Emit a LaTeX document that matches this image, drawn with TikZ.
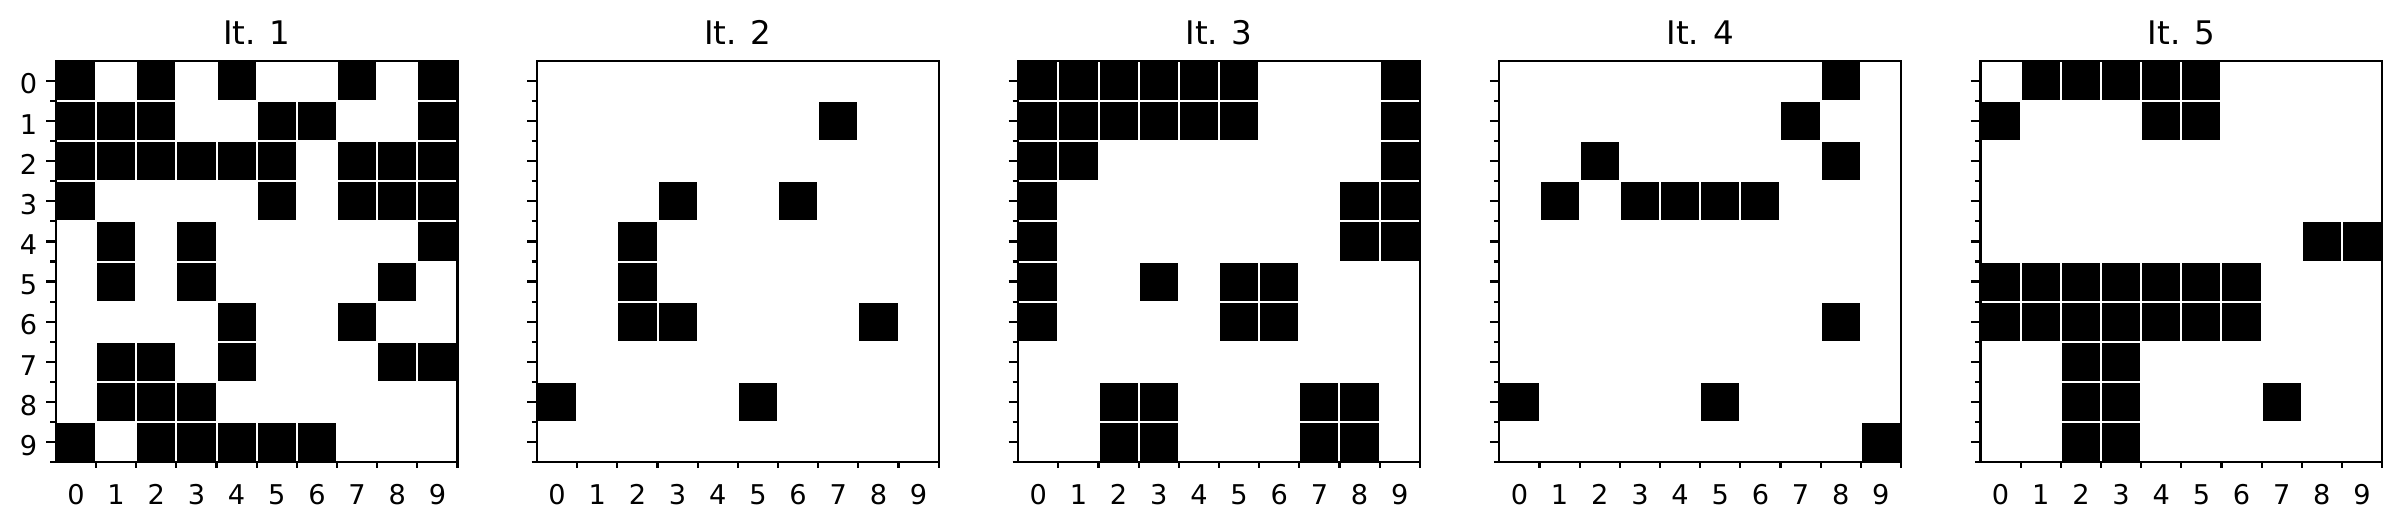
\documentclass[tikz,border=0pt]{standalone}
\usepackage{fontspec}
\setmainfont{DejaVu Sans}
\tikzset{
  cell/.style={fill=black, draw=white, line width=2pt},
  frame/.style={draw=black, line width=2.2pt, line join=miter},
  axtick/.style={draw=black, line width=2.2pt},
  ticklab/.style={font=\fontsize{27.2}{32}\selectfont, inner sep=0pt, outer sep=0pt},
  titlelab/.style={font=\fontsize{32.5}{38}\selectfont, inner sep=0pt, outer sep=0pt},
}
\def\cw{40.16}
\def\side{401.6}
\def\ytop{60.7}
\newcommand\drawpanel[3]{%
  \pgfmathsetmacro\px{55.9+481.15*#1}
  \foreach \r/\cols in {#3}{
    \foreach \c in \cols {
      \filldraw[cell] ({\px+\c*\cw},{\ytop+\r*\cw}) rectangle ++(\cw,\cw);
    }
  }
  \draw[frame] (\px,\ytop) rectangle ++(\side,\side);
  % y ticks: major at row centres, minor at lower row edges
  \foreach \k in {0,...,9}{
    \draw[axtick] ({\px-9.6},{\ytop+(\k+0.5)*\cw}) -- ({\px},{\ytop+(\k+0.5)*\cw});
    \draw[axtick] ({\px-5.5},{\ytop+(\k+1)*\cw}) -- ({\px},{\ytop+(\k+1)*\cw});
    \draw[axtick] ({\px+(\k+1)*\cw},{\ytop+\side}) -- ({\px+(\k+1)*\cw},{\ytop+\side+5.5});
    \node[ticklab, anchor=base] (xl#2-\k) at ({\px+(\k+0.5)*\cw},504) {\k};
  }
  \node[titlelab, anchor=base] (title#2) at ({\px+\side/2},44) {It. #2};
}
\begin{document}
\begin{tikzpicture}[x=1pt,y=-1pt]
\useasboundingbox[fill=white] (0,0) rectangle (2402,530);
\drawpanel{0}{1}{0/{0,2,4,7,9},1/{0,1,2,5,6,9},2/{0,1,2,3,4,5,7,8,9},3/{0,5,7,8,9},4/{1,3,9},5/{1,3,8},6/{4,7},7/{1,2,4,8,9},8/{1,2,3},9/{0,2,3,4,5,6}}
\drawpanel{1}{2}{1/{7},3/{3,6},4/{2},5/{2},6/{2,3,8},8/{0,5}}
\drawpanel{2}{3}{0/{0,1,2,3,4,5,9},1/{0,1,2,3,4,5,9},2/{0,1,9},3/{0,8,9},4/{0,8,9},5/{0,3,5,6},6/{0,5,6},8/{2,3,7,8},9/{2,3,7,8}}
\drawpanel{3}{4}{0/{8},1/{7},2/{2,8},3/{1,3,4,5,6},6/{8},8/{0,5},9/{9}}
\drawpanel{4}{5}{0/{1,2,3,4,5},1/{0,4,5},4/{8,9},5/{0,1,2,3,4,5,6},6/{0,1,2,3,4,5,6},7/{2,3},8/{2,3,7},9/{2,3}}
% y tick labels of the first panel
\foreach \k in {0,...,9}{
  \node[ticklab, anchor=base east] (yl\k) at (37.3,{\ytop+(\k+0.5)*\cw+13.2}) {\k};
}
\end{tikzpicture}
\end{document}
